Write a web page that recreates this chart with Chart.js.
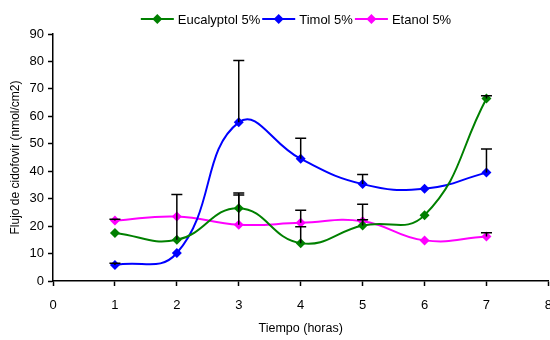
<!DOCTYPE html>
<html>
<head>
<meta charset="utf-8">
<script src="https://cdn.jsdelivr.net/npm/chart.js@4/dist/chart.umd.min.js"></script>
<style>
  html, body { margin: 0; padding: 0; background: #fff; overflow: hidden; }
  #wrap { width: 564px; height: 340px; }
</style>
</head>
<body>
<div id="wrap"><canvas id="fluxChart"></canvas></div>
<script>
"use strict"

// data
var hours = [1, 2, 3, 4, 5, 6, 7];
var eucalyptol = [17.5, 15, 26.5, 13.8, 20.2, 24, 66.5];
var timol = [5.8, 10.2, 57.8, 44.5, 35.3, 33.6, 39.5];
var etanol = [22, 23.5, 20.5, 21.2, 21.8, 14.8, 16.2];
// upper error bars (amount above the point)
var eucalyptolErr = [0, 16.5, 5.6, 6, 7.8, 0, 1];
var timolErr = [0.7, 0, 22.5, 7.5, 3.5, 0, 8.6];
var etanolErr = [0.5, 0, 10.8, 4.6, 0.5, 0, 1.4];
var yTicks = [0, 10, 20, 30, 40, 50, 60, 70, 80, 90];

var FONT = "'Liberation Sans', Arial, sans-serif";

function points(vals) {
    return hours.map(function(h, i) { return { x: h, y: vals[i] }; });
}

function makeSet(label, vals, errs, color) {
    return {
        label: label,
        data: points(vals),
        errors: errs,
        borderColor: color,
        backgroundColor: color,
        borderWidth: 2,
        pointStyle: 'rectRot',
        pointRadius: 5,
        pointHoverRadius: 5,
        pointBorderWidth: 0,
        tension: 0.45,
        fill: false
    };
}

// error bars drawn through the chart scales
var errorBars = {
    id: 'errorBars',
    afterDatasetsDraw: function(chart) {
        var ctx = chart.ctx;
        var xs = chart.scales.x, ys = chart.scales.y;
        ctx.save();
        ctx.strokeStyle = '#000';
        ctx.lineWidth = 1.5;
        chart.data.datasets.forEach(function(ds) {
            ds.data.forEach(function(p, i) {
                var e = ds.errors[i];
                if (!e) return;
                var x = xs.getPixelForValue(p.x);
                var y0 = ys.getPixelForValue(p.y);
                var y1 = ys.getPixelForValue(p.y + e);
                ctx.beginPath();
                ctx.moveTo(x, y0);
                ctx.lineTo(x, y1);
                ctx.moveTo(x - 5.5, y1);
                ctx.lineTo(x + 5.5, y1);
                ctx.stroke();
            });
        });
        ctx.restore();
    }
};

// legend in the Excel style: line with a diamond, then the name
var lineLegend = {
    id: 'lineLegend',
    afterDraw: function(chart) {
        var ctx = chart.ctx;
        var iconW = 33, gapText = 4, gapItem = 2, cy = 19;
        ctx.save();
        ctx.font = '13px ' + FONT;
        ctx.textBaseline = 'middle';
        var total = 0;
        chart.data.datasets.forEach(function(ds, i) {
            total += iconW + gapText + ctx.measureText(ds.label).width + (i ? gapItem : 0);
        });
        var x = 296 - total / 2;
        chart.data.datasets.forEach(function(ds) {
            ctx.strokeStyle = ds.borderColor;
            ctx.fillStyle = ds.borderColor;
            ctx.lineWidth = 2;
            ctx.beginPath();
            ctx.moveTo(x, cy);
            ctx.lineTo(x + iconW, cy);
            ctx.stroke();
            var mx = x + iconW / 2;
            ctx.beginPath();
            ctx.moveTo(mx, cy - 5);
            ctx.lineTo(mx + 5, cy);
            ctx.lineTo(mx, cy + 5);
            ctx.lineTo(mx - 5, cy);
            ctx.closePath();
            ctx.fill();
            x += iconW + gapText;
            ctx.fillStyle = '#000';
            ctx.fillText(ds.label, x, cy + 1);
            x += ctx.measureText(ds.label).width + gapItem;
        });
        ctx.restore();
    }
};

new Chart(document.getElementById('fluxChart'), {
    type: 'line',
    data: {
        datasets: [
            makeSet('Eucalyptol 5%', eucalyptol, eucalyptolErr, '#008000'),
            makeSet('Timol 5%', timol, timolErr, '#0000ff'),
            makeSet('Etanol 5%', etanol, etanolErr, '#ff00ff')
        ]
    },
    options: {
        responsive: true,
        maintainAspectRatio: false,
        animation: false,
        layout: { padding: { top: 34, left: 8, right: 0, bottom: 0 } },
        plugins: {
            tooltip: { enabled: false },
            legend: { display: false }
        },
        scales: {
            x: {
                type: 'linear',
                min: 0,
                max: 8,
                afterFit: function(scale) { scale.height = 59; },
                ticks: {
                    stepSize: 1,
                    color: '#000',
                    padding: 12,
                    font: { family: FONT, size: 13 }
                },
                grid: {
                    drawOnChartArea: false,
                    color: '#000',
                    tickLength: 5,
                    tickWidth: 1.5
                },
                border: { color: '#000', width: 1.5 },
                title: {
                    display: true,
                    text: 'Tiempo (horas)',
                    color: '#000',
                    font: { family: FONT, size: 12.5 },
                    padding: { top: 0, bottom: 4 }
                }
            },
            y: {
                min: 0,
                max: 90,
                afterFit: function(scale) { scale.width = 45; },
                afterBuildTicks: function(scale) {
                    scale.ticks = yTicks.map(function(v) { return { value: v }; });
                },
                ticks: {
                    color: '#000',
                    padding: 4,
                    font: { family: FONT, size: 13 }
                },
                grid: {
                    drawOnChartArea: false,
                    color: '#000',
                    tickLength: 5,
                    tickWidth: 1.5
                },
                border: { color: '#000', width: 1.5 },
                title: {
                    display: true,
                    text: 'Flujo de cidofovir (nmol/cm2)',
                    color: '#000',
                    font: { family: FONT, size: 12 },
                    padding: { top: 0, bottom: 0 }
                }
            }
        }
    },
    plugins: [errorBars, lineLegend]
});
</script>
</body>
</html>
